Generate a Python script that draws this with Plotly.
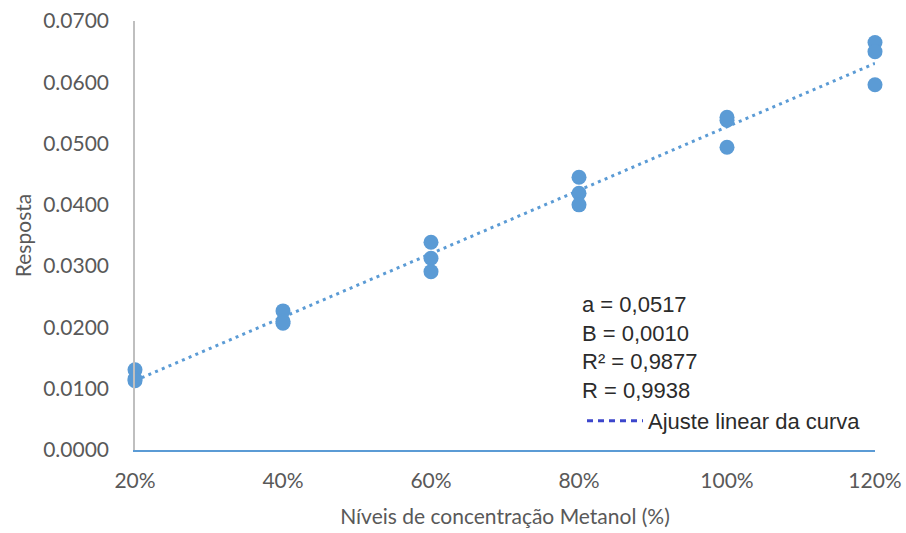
import numpy as np
import plotly.graph_objects as go

# ---- data ----
levels = [0.2, 0.4, 0.6, 0.8, 1.0, 1.2]
rep1 = [0.0131, 0.0227, 0.0339, 0.0445, 0.0543, 0.0665]
rep2 = [0.0116, 0.0210, 0.0313, 0.0419, 0.0538, 0.0650]
rep3 = [0.0113, 0.0207, 0.0291, 0.0400, 0.0494, 0.0596]
stats_lines = ["a = 0,0517", "B = 0,0010", "R² = 0,9877", "R = 0,9938"]
legend_label = "Ajuste linear da curva"
x_title = "Níveis de concentração Metanol (%)"
y_title = "Resposta"

xs = levels * 3
ys = rep1 + rep2 + rep3
slope, intercept = np.polyfit(xs, ys, 1)
fit_x = [levels[0], levels[-1]]
fit_y = [slope * v + intercept for v in fit_x]

BLUE = "#5b9bd5"
fig = go.Figure()
fig.add_trace(go.Scatter(x=fit_x, y=fit_y, mode="lines",
                         line=dict(color=BLUE, width=3, dash="3px,4.3px"),
                         showlegend=False, hoverinfo="skip", cliponaxis=False))
fig.add_trace(go.Scatter(x=xs, y=ys, mode="markers",
                         marker=dict(color=BLUE, size=15),
                         showlegend=False, cliponaxis=False))
fig.add_trace(go.Scatter(x=[None], y=[None], mode="lines", name=legend_label,
                         line=dict(color="#3c46cc", width=3, dash="6px,5px")))

# plot area in pixels: left 135, right 875, top 21, bottom 450
L, R, T, B = 135, 875, 21, 450
W, H = 906, 533
def py(p):
    return (B - p) / (B - T)
def px(p):
    return (p - L) / (R - L)

line_ys = [304, 333, 361, 390]
for txt, yy in zip(stats_lines, line_ys):
    fig.add_annotation(text=txt, xref="paper", yref="paper", x=px(580), y=py(yy),
                       xanchor="left", yanchor="middle", showarrow=False,
                       font=dict(family="Liberation Sans, Arial", size=22, color="#2b2b2b"))

tick_font = dict(family="Lato", size=21, color="#595959")
fig.update_layout(
    width=W, height=H,
    margin=dict(l=L, r=W - R, t=T, b=H - B),
    plot_bgcolor="white", paper_bgcolor="white",
    showlegend=True,
    legend=dict(x=px(582), y=py(421), xanchor="left", yanchor="middle",
                bgcolor="rgba(0,0,0,0)", borderwidth=0,
                font=dict(family="Liberation Sans, Arial", size=22, color="#2b2b2b"),
                itemwidth=56),
    xaxis=dict(range=[0.2, 1.2], tickvals=levels, tickformat=".0%",
               showgrid=False, zeroline=False, showline=True, automargin=False,
               linecolor=BLUE, linewidth=2, ticks="",
               tickfont=tick_font, ticklabelstandoff=11,
               title=dict(text=x_title, font=dict(family="Lato", size=21, color="#595959"), standoff=18)),
    yaxis=dict(range=[0, 0.07], dtick=0.01, tickformat=".4f",
               showgrid=False, zeroline=False, showline=True, automargin=False,
               linecolor="#bfbfbf", linewidth=1.5, ticks="",
               tickfont=tick_font, ticklabelstandoff=20,
               title=dict(text=y_title, font=dict(family="Lato", size=21, color="#595959"), standoff=6)),
)
fig.write_html("out.html")
